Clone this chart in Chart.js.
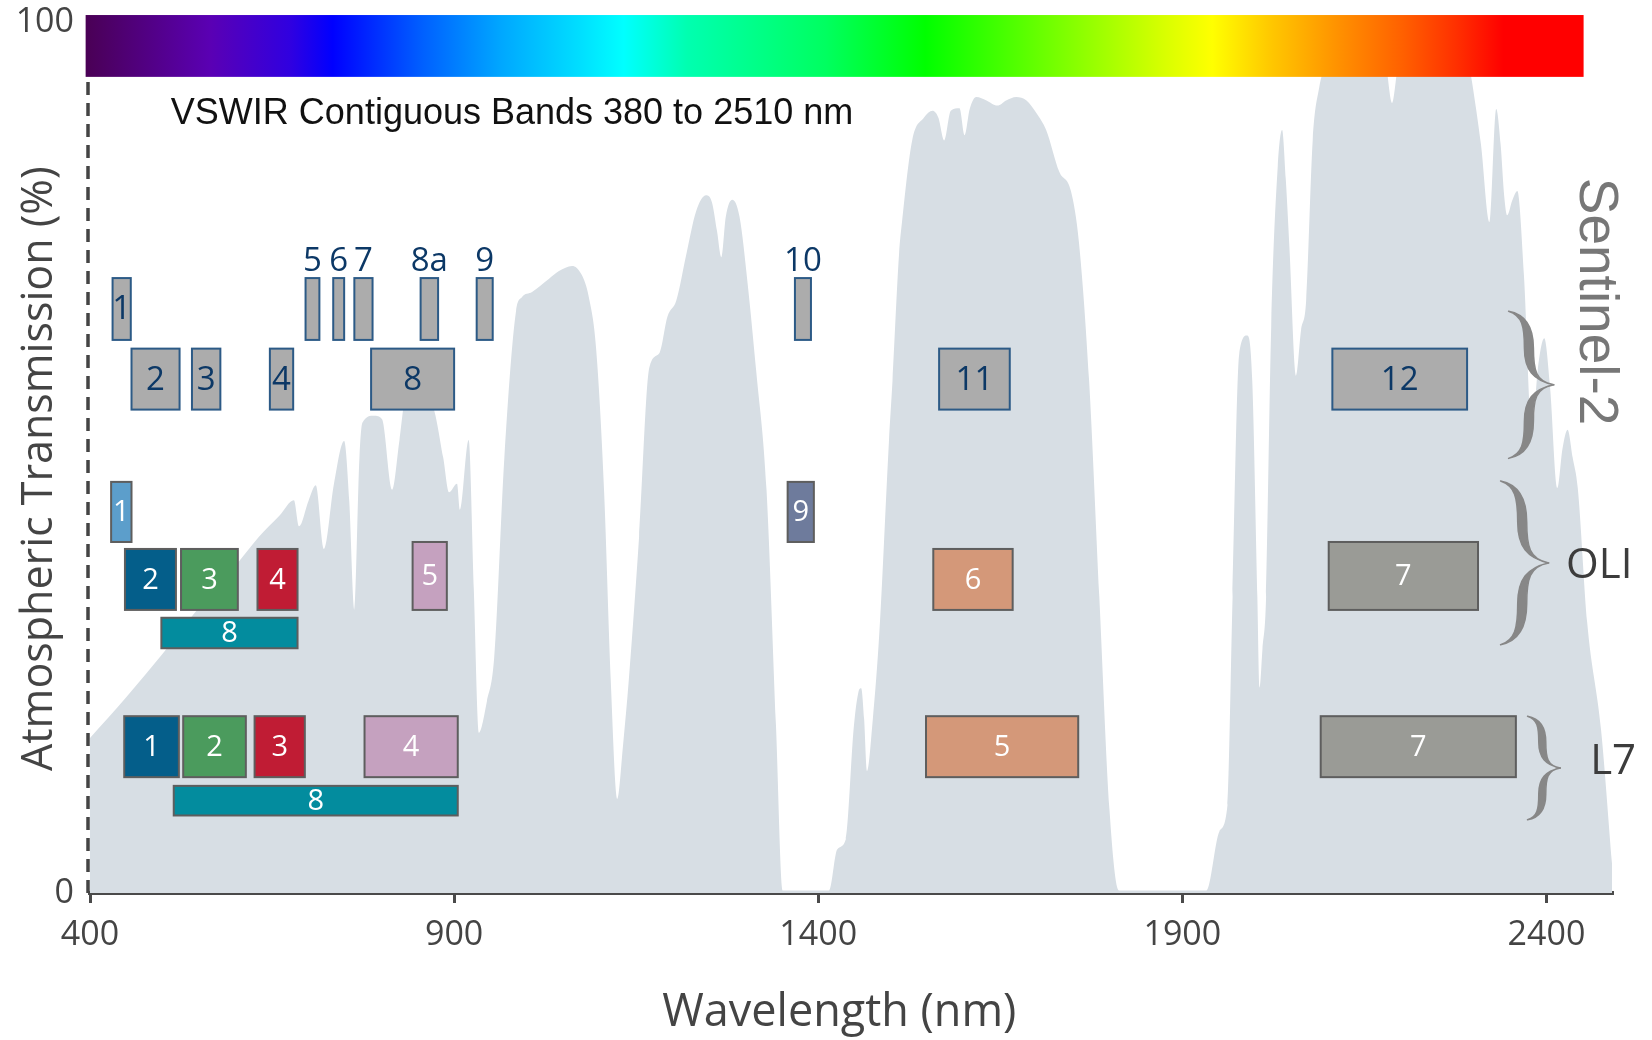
<!DOCTYPE html>
<html>
<head>
<meta charset="utf-8">
<script src="https://cdn.jsdelivr.net/npm/chart.js@4.4.0/dist/chart.umd.min.js"></script>
<style>
  html, body { margin: 0; padding: 0; background: #ffffff; }
  #wrap { width: 1652px; height: 1040px; }
</style>
</head>
<body>
<div id="wrap"><canvas id="chart1" width="1652" height="1040"></canvas></div>
<script>
// atmospheric transmission curve (nm -> %)
let wavelengthNm = [400, 450, 500, 550, 600, 632, 660, 680, 687, 700, 710, 721, 735, 749, 756, 763, 770, 774, 790, 801,
  815, 825, 834, 850, 870, 885, 893, 904, 908, 920, 927, 934, 945, 955, 969, 985, 993, 1007, 1030, 1044,
  1062, 1075, 1085, 1095, 1106, 1115, 1124, 1132, 1140, 1154, 1168, 1182, 1193, 1205, 1219, 1232, 1246, 1254, 1261, 1267,
  1273, 1282, 1292, 1303, 1315, 1329, 1342, 1351, 1415, 1426, 1438, 1449, 1455, 1459, 1463, 1467, 1475, 1484, 1497, 1502,
  1511, 1515, 1529, 1545, 1557, 1565, 1573, 1582, 1594, 1601, 1608, 1617, 1631, 1646, 1658, 1672, 1686, 1700, 1713, 1731,
  1747, 1758, 1772, 1786, 1800, 1813, 1933, 1951, 1962, 1969, 1978, 1989, 1996, 2003, 2006, 2010, 2015, 2022, 2031, 2037,
  2042, 2047, 2056, 2063, 2070, 2079, 2088, 2096, 2110, 2130, 2170, 2180, 2188, 2196, 2210, 2270, 2290, 2298, 2310, 2322,
  2331, 2337, 2342, 2346, 2353, 2360, 2369, 2380, 2388, 2397, 2405, 2415, 2422, 2429, 2436, 2443, 2456, 2475, 2490];
let transmissionPct = [17.8, 22.5, 27.5, 32.8, 37.6, 40.9, 43.3, 45.1, 42.1, 45.0, 46.8, 39.5, 47.0, 51.9, 45.0, 32.5, 50.0, 54.0, 54.8, 54.4,
  46.3, 52.0, 57.0, 57.0, 56.0, 50.0, 46.0, 47.0, 44.0, 52.0, 35.0, 18.4, 22.0, 27.0, 50.0, 66.8, 68.4, 69.0, 70.5, 71.4,
  72.0, 71.0, 68.4, 62.5, 46.0, 24.6, 10.8, 17.0, 24.6, 40.9, 60.3, 62.0, 66.2, 68.0, 73.4, 78.2, 80.1, 79.3, 76.0, 73.0,
  77.6, 79.6, 77.6, 70.0, 59.8, 46.3, 19.2, 0.3, 0.3, 5.0, 6.2, 19.2, 23.0, 23.5, 20.0, 14.0, 20.0, 30.0, 51.7, 58.8,
  73.4, 77.0, 86.4, 89.0, 89.8, 89.0, 86.4, 89.8, 90.1, 87.0, 90.0, 91.4, 91.0, 90.4, 91.0, 91.4, 91.0, 89.5, 87.6, 82.8,
  80.6, 74.7, 58.8, 34.0, 9.5, 0.3, 0.3, 7.1, 10.1, 34.0, 61.8, 64.0, 58.8, 34.0, 23.6, 28.0, 34.0, 64.9, 83.4, 87.6,
  82.0, 74.2, 59.4, 64.6, 68.0, 86.4, 92.5, 95.0, 98.0, 100, 100, 95.0, 90.7, 95.0, 100, 100, 97.0, 93.0, 86.0, 77.0,
  90.0, 86.0, 80.0, 77.8, 79.5, 80.6, 71.0, 52.6, 60.0, 63.7, 58.0, 46.5, 51.0, 53.2, 50.0, 46.5, 31.0, 18.7, 3.4];

// band boxes
let bandGroups   = ['S2', 'S2', 'S2', 'S2', 'S2', 'S2', 'S2', 'S2', 'S2', 'S2', 'S2', 'S2', 'S2',
  'OLI', 'OLI', 'OLI', 'OLI', 'OLI', 'OLI', 'OLI', 'OLI', 'OLI',
  'L7', 'L7', 'L7', 'L7', 'L7', 'L7', 'L7'];
let bandLabels   = ['1', '5', '6', '7', '8a', '9', '10', '2', '3', '4', '8', '11', '12',
  '1', '2', '3', '4', '5', '8', '9', '6', '7',
  '1', '2', '3', '4', '8', '5', '7'];
let bandStartNm  = [431, 696, 734, 763, 854, 931, 1368, 457, 540, 647, 786, 1566, 2106,
  429, 448, 525, 630, 843, 498, 1358, 1558, 2101,
  447, 528, 626, 777, 515, 1548, 2090];
let bandEndNm    = [456, 715, 749, 788, 878, 953, 1390, 523, 579, 679, 900, 1663, 2291,
  457, 518, 603, 685, 890, 685, 1394, 1667, 2306,
  522, 614, 695, 905, 905, 1757, 2358];
let bandLowPct   = [63.5, 63.5, 63.5, 63.5, 63.5, 63.5, 63.5, 55.5, 55.5, 55.5, 55.5, 55.5, 55.5,
  40.3, 32.5, 32.5, 32.5, 32.5, 28.1, 40.3, 32.5, 32.5,
  13.3, 13.3, 13.3, 13.3, 8.9, 13.3, 13.3];
let bandHighPct  = [70.6, 70.6, 70.6, 70.6, 70.6, 70.6, 70.6, 62.5, 62.5, 62.5, 62.5, 62.5, 62.5,
  47.2, 39.5, 39.5, 39.5, 40.3, 31.6, 47.2, 39.5, 40.3,
  20.3, 20.3, 20.3, 20.3, 12.3, 20.3, 20.3];
let labelAbove   = [false, true, true, true, true, true, true, false, false, false, false, false, false,
  false, false, false, false, false, false, false, false, false,
  false, false, false, false, false, false, false];
let bandColors   = ['#acacac', '#acacac', '#acacac', '#acacac', '#acacac', '#acacac', '#acacac',
  '#acacac', '#acacac', '#acacac', '#acacac', '#acacac', '#acacac',
  '#5c9ecb', '#045e8a', '#4b9b5d', '#c01c34', '#c5a1bf', '#038c9e', '#6e7b9c', '#d49879', '#9a9b96',
  '#045e8a', '#4b9b5d', '#c01c34', '#c5a1bf', '#038c9e', '#d49879', '#9a9b96'];

// sensor braces: name, x from/to (nm), y top/bottom (%), label anchor
let sensorNames   = ['Sentinel-2', 'OLI', 'L7'];
let braceStartNm  = [2348, 2337, 2374];
let braceEndNm    = [2410, 2403, 2419];
let braceTopPct   = [66.8, 47.3, 20.3];
let braceBotPct   = [49.9, 28.5, 8.4];
let sensorLabelNm = [2467, 2427, 2460];
let sensorLabelPct = [67.9, 37.5, 15.0];

// visible spectrum strip
let spectrumNm = [394, 566, 675, 733, 857, 966, 1075, 1133, 1220, 1410, 1547, 1693, 1802, 1875, 1941, 2021, 2116, 2203, 2276, 2341, 2451];
let spectrumColors = ['#4a0055', '#5a00b4', '#3000e0', '#0000ff', '#0060ff', '#00a8ff', '#00e0ff', '#00ffff', '#00ffb0', '#00ff60',
  '#00ff00', '#60ff00', '#a8ff00', '#d8ff00', '#ffff00', '#ffc800', '#ff9000', '#ff6000', '#ff3000', '#ff0000', '#ff0000'];
let spectrumPct = [93.7, 100.8];

let chartTitle = 'VSWIR Contiguous Bands 380 to 2510 nm';
let titleNm = 511, titlePct = 89.4;

let xTicks = [400, 900, 1400, 1900, 2400];
let yTicks = [0, 100];

// calligraphic right-pointing curly brace, thick in the middle of each arm
function drawBrace(ctx, x0, x1, y0, y1, t) {
  var w = x1 - x0, h = y1 - y0, ym = (y0 + y1) / 2, xb = x0 + w * 0.45;
  var halves = [1, -1];
  for (var k = 0; k < 2; k++) {
    var s = halves[k];
    var ye = s > 0 ? y0 : y1;
    ctx.beginPath();
    ctx.moveTo(x0, ye);
    ctx.bezierCurveTo(x0 + w * 0.35, ye + s * h * 0.02, xb + t, ye + s * h * 0.1, xb + t, ye + s * h * 0.25);
    ctx.bezierCurveTo(xb + t, ym - s * h * 0.1, x0 + w * 0.6, ym - s * h * 0.02, x1, ym);
    ctx.bezierCurveTo(x0 + w * 0.55, ym - s * h * 0.03, xb - t, ym - s * h * 0.1, xb - t, ye + s * h * 0.25);
    ctx.bezierCurveTo(xb - t, ye + s * h * 0.1, x0 + w * 0.3, ye + s * h * 0.03, x0, ye);
    ctx.closePath();
    ctx.fill();
    ctx.stroke();
  }
}

const bandBoxes = {
  id: 'bandBoxes',
  afterDatasetsDraw(chart) {
    const ctx = chart.ctx;
    const xs = chart.scales.x, ys = chart.scales.y;
    ctx.save();

    // dashed y axis line
    ctx.strokeStyle = '#444444';
    ctx.lineWidth = 3.5;
    ctx.setLineDash([13, 8]);
    ctx.beginPath();
    ctx.moveTo(xs.left - 2, ys.bottom);
    ctx.lineTo(xs.left - 2, ys.top);
    ctx.stroke();
    ctx.setLineDash([]);

    for (var i = 0; i < bandLabels.length; i++) {
      var x0 = xs.getPixelForValue(bandStartNm[i]);
      var x1 = xs.getPixelForValue(bandEndNm[i]);
      var y0 = ys.getPixelForValue(bandHighPct[i]);
      var y1 = ys.getPixelForValue(bandLowPct[i]);
      var s2 = bandGroups[i] == 'S2';
      ctx.fillStyle = bandColors[i];
      ctx.fillRect(x0, y0, x1 - x0, y1 - y0);
      ctx.lineWidth = 2;
      ctx.strokeStyle = s2 ? '#2c5a86' : '#5e5e5e';
      ctx.strokeRect(x0, y0, x1 - x0, y1 - y0);
      ctx.textAlign = 'center';
      ctx.fillStyle = s2 ? '#0c3866' : '#ffffff';
      ctx.font = s2 ? '33px "Open Sans"' : '29px "Open Sans"';
      if (labelAbove[i]) {
        ctx.textBaseline = 'alphabetic';
        ctx.fillText(bandLabels[i], (x0 + x1) / 2, y0 - 7);
      } else {
        ctx.textBaseline = 'middle';
        ctx.fillText(bandLabels[i], (x0 + x1) / 2, (y0 + y1) / 2 + 1);
      }
    }

    // braces and sensor names
    ctx.fillStyle = '#878787';
    ctx.strokeStyle = '#878787';
    ctx.lineWidth = 1.5;
    ctx.lineJoin = 'round';
    for (var j = 0; j < sensorNames.length; j++) {
      drawBrace(ctx, xs.getPixelForValue(braceStartNm[j]), xs.getPixelForValue(braceEndNm[j]),
        ys.getPixelForValue(braceTopPct[j]), ys.getPixelForValue(braceBotPct[j]), j == 2 ? 3.5 : 4.5);
    }
    for (var j = 0; j < sensorNames.length; j++) {
      var lx = xs.getPixelForValue(sensorLabelNm[j]);
      var ly = ys.getPixelForValue(sensorLabelPct[j]);
      if (j == 0) {
        ctx.save();
        ctx.translate(lx, ly);
        ctx.rotate(Math.PI / 2);
        ctx.font = '55px "Liberation Sans"';
        ctx.fillStyle = '#777777';
        ctx.textAlign = 'center';
        ctx.textBaseline = 'middle';
        ctx.fillText(sensorNames[j], 0, 0);
        ctx.restore();
      } else {
        ctx.font = '42px "Open Sans"';
        ctx.fillStyle = '#3c3c3c';
        ctx.textAlign = 'left';
        ctx.textBaseline = 'middle';
        ctx.fillText(sensorNames[j], lx, ly);
      }
    }

    ctx.font = '36px "Liberation Sans"';
    ctx.fillStyle = '#111111';
    ctx.textAlign = 'left';
    ctx.textBaseline = 'middle';
    ctx.fillText(chartTitle, xs.getPixelForValue(titleNm), ys.getPixelForValue(titlePct));
    ctx.restore();
  },
  afterDraw(chart) {
    // spectrum strip on top of the dashed axis
    const ctx = chart.ctx;
    const xs = chart.scales.x, ys = chart.scales.y;
    var left = xs.getPixelForValue(spectrumNm[0]);
    var right = xs.getPixelForValue(spectrumNm[spectrumNm.length - 1]);
    var top = ys.getPixelForValue(spectrumPct[1]);
    var bottom = ys.getPixelForValue(spectrumPct[0]);
    var grad = ctx.createLinearGradient(left, 0, right, 0);
    for (var k = 0; k < spectrumNm.length; k++) {
      grad.addColorStop((xs.getPixelForValue(spectrumNm[k]) - left) / (right - left), spectrumColors[k]);
    }
    ctx.save();
    ctx.fillStyle = grad;
    ctx.fillRect(left, top, right - left, bottom - top);
    ctx.restore();
  }
};

var ctx = document.getElementById('chart1').getContext('2d');
var myChart = new Chart(ctx, {
  type: 'line',
  data: {
    datasets: [{
      label: 'Atmospheric transmission',
      data: wavelengthNm.map(function(w, i) { return {x: w, y: transmissionPct[i]}; }),
      fill: 'origin',
      backgroundColor: '#d7dee4',
      borderColor: 'rgba(0,0,0,0)',
      borderWidth: 0,
      pointRadius: 0,
      cubicInterpolationMode: 'monotone',
    }]
  },
  options: {
    responsive: false,
    animation: false,
    devicePixelRatio: 1,
    layout: { padding: { top: 22, right: 40, left: 0, bottom: 0 } },
    plugins: {
      legend: { display: false },
      tooltip: { enabled: false },
    },
    scales: {
      x: {
        type: 'linear',
        min: 400,
        max: 2490,
        z: 1,
        afterBuildTicks: function(scale) { scale.ticks = xTicks.map(function(v) { return {value: v}; }); },
        afterFit: function(scale) { scale.height = 147; },
        border: { display: true, color: '#4a4a4a', width: 4 },
        grid: { display: true, drawOnChartArea: false, drawTicks: true, tickLength: 10, color: '#4a4a4a', lineWidth: 3 },
        ticks: { color: '#444444', font: { family: 'Open Sans', size: 34 }, padding: 12, maxRotation: 0,
          callback: function(value) { return String(value); } },
        // two trailing spaces nudge the centred title a little left, as in the original
        title: { display: true, text: 'Wavelength (nm)  ', color: '#444444',
          font: { family: 'Open Sans', size: 45 }, padding: { top: 0, bottom: 0 } },
      },
      y: {
        min: 0,
        max: 100,
        z: 1,
        afterBuildTicks: function(scale) { scale.ticks = yTicks.map(function(v) { return {value: v}; }); },
        afterFit: function(scale) { scale.width = 90; },
        border: { display: false },
        grid: { display: false, drawTicks: false },
        ticks: { color: '#444444', font: { family: 'Open Sans', size: 34, lineHeight: 0.3 }, padding: 16,
          callback: function(value) { return String(value); } },
        title: { display: true, text: 'Atmospheric Transmission (%)  ', color: '#444444',
          font: { family: 'Open Sans', size: 43 }, padding: { top: 14, bottom: 0 } },
      },
    },
  },
  plugins: [bandBoxes],
});
</script>
</body>
</html>
